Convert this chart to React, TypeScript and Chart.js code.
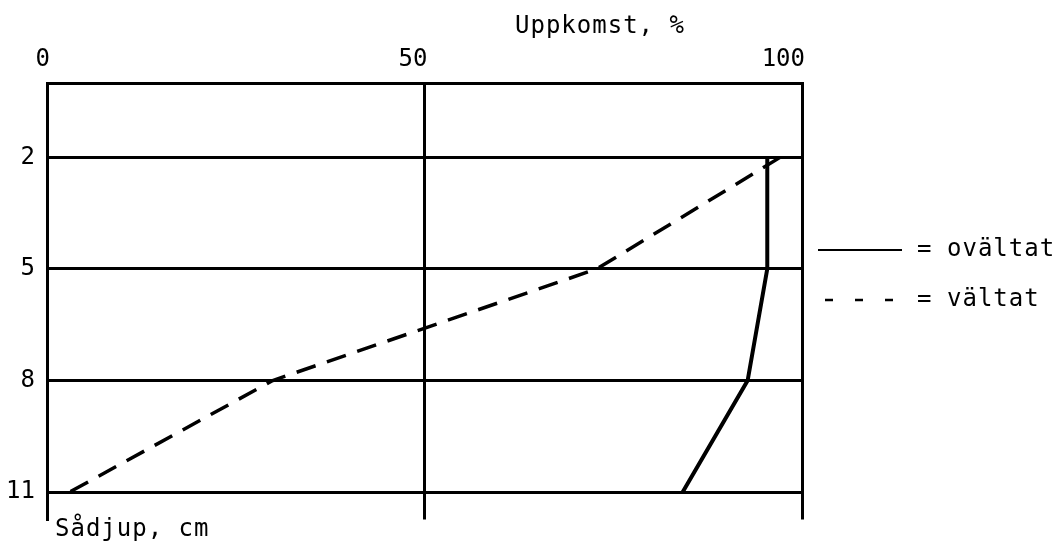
import React, { useEffect, useRef } from "react";
import { Chart, registerables } from "chart.js";

Chart.register(...registerables);

const depths = [2, 5, 8, 11];
const ovaltat = [95.4, 95.4, 92.8, 84.2];
const valtat = [97.1, 72.8, 29.9, 3.0];
const xTicks = [0, 50, 100];
const yTicks = [0, 2, 5, 8, 11];
const xTitle = "Uppkomst, %";
const yTitle = "Sådjup, cm";
const seriesNames = ["ovältat", "vältat"];

const FONT = "'DejaVu Sans Mono', monospace";

const textPlugin = {
  id: "textPlugin",
  afterDraw(chart: any) {
    const ctx = chart.ctx as CanvasRenderingContext2D;
    ctx.save();
    ctx.fillStyle = "#000";
    ctx.strokeStyle = "#000";
    ctx.font = `24px ${FONT}`;
    (ctx as any).letterSpacing = "1px";
    ctx.textBaseline = "middle";
    ctx.textAlign = "left";
    ctx.fillText(xTitle, 515, 27);
    ctx.fillText(yTitle, 55, 530);
    // legend
    ctx.lineWidth = 2;
    ctx.setLineDash([]);
    ctx.beginPath();
    ctx.moveTo(818, 250);
    ctx.lineTo(902, 250);
    ctx.stroke();
    ctx.lineWidth = 2.5;
    ctx.setLineDash([8, 22]);
    ctx.beginPath();
    ctx.moveTo(825, 300);
    ctx.lineTo(897, 300);
    ctx.stroke();
    ctx.setLineDash([]);
    ctx.fillText("=", 917, 250);
    ctx.fillText(seriesNames[0], 947, 250);
    ctx.fillText("=", 917, 300);
    ctx.fillText(seriesNames[1], 947, 300);
    ctx.restore();
  },
};

export default function App() {
  const ref = useRef<HTMLCanvasElement | null>(null);
  useEffect(() => {
    if (!ref.current) return;
    const chart = new Chart(ref.current, {
      type: "scatter",
      data: {
        datasets: [
          {
            label: seriesNames[0],
            data: depths.map((d, i) => ({ x: ovaltat[i], y: d })),
            showLine: true,
            borderColor: "#000",
            borderWidth: 4,
            pointRadius: 0,
            tension: 0,
          },
          {
            label: seriesNames[1],
            data: depths.map((d, i) => ({ x: valtat[i], y: d })),
            showLine: true,
            borderColor: "#000",
            borderWidth: 3.5,
            borderDash: [20, 12],
            pointRadius: 0,
            tension: 0,
          },
        ],
      },
      options: {
        responsive: false,
        animation: false,
        layout: { padding: { left: 0, top: 0, right: 259, bottom: 21 } },
        plugins: {
          legend: { display: false },
          tooltip: { enabled: false },
        },
        scales: {
          x: {
            type: "linear",
            position: "top",
            min: 0,
            max: 100,
            afterBuildTicks: (s: any) => {
              s.ticks = xTicks.map((v) => ({ value: v }));
            },
            afterFit: (s: any) => {
              s.height = 83;
            },
            grid: { color: "#000", lineWidth: 3, drawTicks: false },
            border: { display: true, color: "#000", width: 3 },
            ticks: {
              color: "#000",
              font: { family: FONT, size: 24 },
              align: "end",
              labelOffset: 3,
              padding: 9,
              maxRotation: 0,
            },
          },
          y: {
            type: "linear",
            position: "left",
            reverse: true,
            min: 0,
            max: 11.74,
            afterBuildTicks: (s: any) => {
              s.ticks = yTicks.map((v) => ({ value: v }));
            },
            afterFit: (s: any) => {
              s.width = 47;
            },
            grid: { color: "#000", lineWidth: 3, drawTicks: false },
            border: { display: true, color: "#000", width: 3 },
            ticks: {
              color: "#000",
              font: { family: FONT, size: 24 },
              padding: 12,
              callback: (v: any) => (v === 0 ? "" : String(v)),
            },
          },
        },
      },
      plugins: [textPlugin],
    });
    return () => chart.destroy();
  }, []);
  return (
    <div style={{ position: "fixed", left: 0, top: 0, width: 1061, height: 546, background: "#fff" }}>
      <canvas ref={ref} width={1061} height={546} style={{ display: "block" }} />
    </div>
  );
}
